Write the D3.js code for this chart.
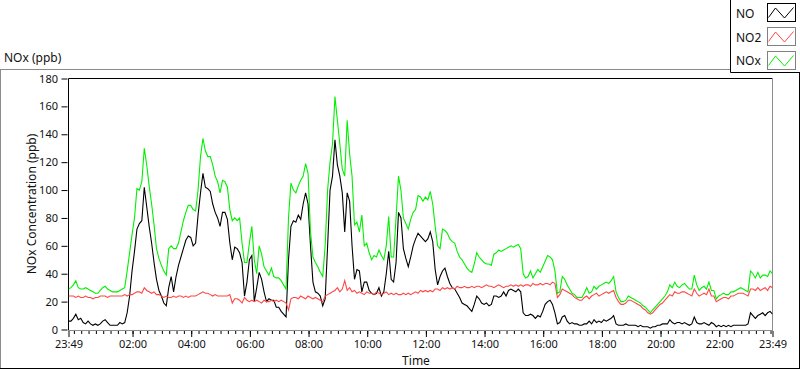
<!DOCTYPE html>
<html><head><meta charset="utf-8">
<script src="https://cdn.jsdelivr.net/npm/d3@7"></script>
<style>
body{margin:0;background:#fff;overflow:hidden}
svg{display:block}
text{font-family:"Noto Sans",sans-serif;fill:#111}
</style>
</head><body><svg id="c" width="800" height="369"></svg>
<script>
// ---------- data (5-minute samples from 23:49 to 23:49 next day) ----------
const startTime = "23:49";
const stepMinutes = 5;
const seriesNames = ["NO", "NO2", "NOx"];
const seriesColors = ["#000000", "#ff4646", "#00f000"];

const NO = [
6,6,8,11,7,8,5,4,6,4,3,4,3,4,6,7,5,3,3,3,3,5,4,5,
12,24,42,56,72,76,78,102,88,74,62,48,36,28,24,19,17,30,38,27,38,46,52,58,64,67,66,60,62,82,98,112,102,101,99,90,84,80,74,84,84,79,62,50,59,58,55,48,24,
34,50,53,20,30,41,36,27,20,22,21,21,16,16,13,11,9,
50,74,78,77,82,79,90,98,90,60,34,27,26,24,17,22,
60,100,110,136,118,110,98,70,98,92,60,
36,43,42,27,34,34,28,26,25,26,30,24,27,40,
56,36,34,48,84,80,58,51,45,52,60,65,69,67,
65,63,65,70,63,43,32,38,42,44,38,33,30,29,26,23,19,18,17,15,13,
18,24,22,19,18,19,17,18,24,24,23,24,27,24,28,29,28,27,29,27,
12,10,10,11,10,8,10,9,13,18,20,21,18,12,
4,5,9,10,6,4,5,4,4,3,3,4,4,6,4,7,5,
6,5,7,6,7,8,10,4,3,3,3,4,3,3,3,3,2,3,2,2,2,1,2,2,3,3,4,4,4,7,5,4,5,5,4,5,4,3,4,9,
5,4,4,5,4,3,5,4,2,3,2,3,2,3,2,3,3,3,3,3,3,4,12,10,8,10,11,12,10,12,13,11
];

const NO2 = [
24,24,24,23,24,23,23,24,23,23,22,23,23,24,24,24,23,24,24,24,24,24,24,25,
24,25,25,26,27,27,26,30,28,27,26,27,25,
25,24,23,24,23,23,24,23,24,24,23,24,23,24,24,24,
25,26,27,26,26,25,24,25,24,24,24,24,24,25,
19,22,22,21,19,23,
21,20,21,20,21,20,19,21,20,20,21,20,21,20,21,20,19,
14,
22,23,23,22,24,23,22,24,23,22,23,22,21,20,
24,25,26,27,28,30,27,29,35,28,30,27,
28,26,27,26,25,27,26,26,25,27,26,25,26,27,
25,26,25,26,25,25,26,25,26,25,26,27,26,28,
27,28,27,28,27,29,
29,28,30,29,30,29,30,29,31,30,30,31,30,30,31,
30,31,31,30,31,32,31,31,30,31,32,31,30,31,31,32,31,32,31,32,
31,32,32,31,33,32,32,33,32,33,33,32,34,33,
23,25,29,28,27,26,25,23,22,21,21,23,24,22,24,25,26,
24,25,26,27,26,27,28,23,20,18,18,19,21,21,20,19,18,17,15,14,12,11,12,14,16,18,19,21,23,25,
24,27,26,26,27,27,26,25,24,29,26,24,25,26,25,29,24,24,20,21,22,23,23,22,24,24,25,26,26,26,
25,24,29,29,28,30,28,29,30,28,31,30
];

const NOx = [
29,30,32,35,30,29,29,30,29,28,27,26,26,28,30,31,29,28,27,27,27,28,29,30,
42,55,68,80,101,100,106,130,118,103,90,75,58,51,46,42,39,58,60,58,
58,62,70,78,84,89,89,86,85,100,124,137,128,124,124,118,110,106,98,107,
106,102,86,78,80,78,80,62,48,
48,62,74,50,40,60,54,45,42,39,44,38,37,37,35,32,29,80,105,100,
98,103,107,110,119,112,70,52,48,45,41,38,60,100,120,133,167,150,133,115,
110,150,126,110,75,77,70,82,60,62,55,50,53,52,57,53,50,60,81,52,
52,80,110,100,80,76,72,79,84,86,96,95,
92,95,93,99,90,74,60,58,72,71,69,65,63,62,56,52,50,47,44,42,
41,47,55,52,50,48,47,47,46,54,55,57,56,57,58,59,60,59,60,61,
58,40,37,38,42,37,40,43,41,45,49,53,52,50,42,26,27,38,36,32,
29,26,25,23,23,23,26,30,26,27,31,29,
31,32,33,34,33,35,38,27,23,20,20,21,24,23,22,21,20,19,17,16,
14,12,14,16,18,20,22,24,27,32,30,34,31,30,32,33,31,29,29,39,
32,28,30,31,29,34,28,28,22,24,25,26,25,25,27,27,28,29,30,29,
28,27,42,40,37,41,37,39,39,38,42,40
];

const xTickLabels = ["23:49","02:00","04:00","06:00","08:00","10:00","12:00","14:00","16:00","18:00","20:00","22:00","23:49"];
const yTicks = [0,20,40,60,80,100,120,140,160,180];
const chartTitle = "NOx (ppb)";
const yTitle = "NOx Concentration (ppb)";
const xTitle = "Time";

// ---------- scales ----------
const svg = d3.select("#c");
const P = {l: 68.5, r: 772.5, t: 78.5, b: 330.5};
const [sh, sm] = startTime.split(":").map(Number);
const t0 = new Date(2000, 0, 1, sh, sm);
const t1 = d3.timeMinute.offset(t0, 24 * 60);
const x = d3.scaleTime().domain([t0, t1]).range([P.l, P.r]);
const y = d3.scaleLinear().domain([0, 180]).range([P.b - 1, P.t]);

const timeOf = i => d3.timeMinute.offset(t0, i * stepMinutes);

// ---------- outer panel ----------
svg.append("line").attr("x1", 0).attr("x2", 730).attr("y1", 69.5).attr("y2", 69.5).attr("stroke", "#8c8c8c");
svg.append("line").attr("x1", 0.5).attr("x2", 0.5).attr("y1", 69.5).attr("y2", 369).attr("stroke", "#8c8c8c");
svg.append("line").attr("x1", 0).attr("x2", 800).attr("y1", 368.5).attr("y2", 368.5).attr("stroke", "#000");
svg.append("line").attr("x1", 799.5).attr("x2", 799.5).attr("y1", 72).attr("y2", 369).attr("stroke", "#000");

svg.append("text").attr("x", 4).attr("y", 62).attr("font-size", 12).text(chartTitle);

// ---------- plot frame ----------
svg.append("line").attr("x1", P.l).attr("x2", P.r).attr("y1", P.t).attr("y2", P.t).attr("stroke", "#000");
svg.append("line").attr("x1", P.l).attr("x2", P.l).attr("y1", P.t).attr("y2", P.b).attr("stroke", "#000");
svg.append("line").attr("x1", P.r).attr("x2", P.r).attr("y1", P.t).attr("y2", P.b).attr("stroke", "#8c8c8c");
svg.append("line").attr("x1", P.l).attr("x2", P.r + 0.5).attr("y1", P.b).attr("y2", P.b).attr("stroke", "#8c8c8c");

// ---------- y axis ----------
const yAx = svg.append("g").attr("transform", `translate(${P.l - 1},0)`)
  .call(d3.axisLeft(y).tickValues(yTicks).tickSize(6).tickPadding(3.5));
yAx.select(".domain").remove();
yAx.selectAll("line").attr("stroke", "#000");
yAx.selectAll("text").attr("font-size", 11).attr("font-family", '"Noto Sans",sans-serif').attr("fill", "#111");

svg.append("text").attr("transform", "translate(36,204) rotate(-90)")
  .attr("text-anchor", "middle").attr("font-size", 12).text(yTitle);

// ---------- x axis ----------
const majors = xTickLabels.map((s, i) => {
  const [h, m] = s.split(":").map(Number);
  return i === 0 ? t0 : (i === xTickLabels.length - 1 ? t1 : new Date(2000, 0, 2, h, m));
});
const minors = d3.timeMinute.every(15).range(d3.timeMinute.offset(t0, 1), t1);

const xMin = svg.append("g").attr("transform", `translate(0,${P.b + 0.5})`)
  .call(d3.axisBottom(x).tickValues(minors).tickSize(3).tickFormat(""));
xMin.select(".domain").remove();
xMin.selectAll("line").attr("stroke", "#000");

const xMaj = svg.append("g").attr("transform", `translate(0,${P.b + 0.5})`)
  .call(d3.axisBottom(x).tickValues(majors).tickSize(6).tickPadding(3)
    .tickFormat((d, i) => xTickLabels[i]));
xMaj.select(".domain").remove();
xMaj.selectAll("line").attr("stroke", "#000");
xMaj.selectAll("text").attr("font-size", 11).attr("font-family", '"Noto Sans",sans-serif').attr("fill", "#111");

svg.append("text").attr("x", 416).attr("y", 365).attr("text-anchor", "middle").attr("font-size", 12).text(xTitle);

// ---------- series ----------
const seriesData = [NO, NO2, NOx];
const line = d3.line().x((d, i) => x(timeOf(i))).y(d => y(d));
svg.append("defs").append("clipPath").attr("id", "clip")
  .append("rect").attr("x", P.l).attr("y", P.t).attr("width", P.r - P.l).attr("height", P.b - P.t);
const gPlot = svg.append("g").attr("clip-path", "url(#clip)");
seriesData.forEach((arr, s) => {
  gPlot.append("path").datum(arr).attr("d", line)
    .attr("fill", "none").attr("stroke", seriesColors[s]).attr("stroke-width", 1.1);
});

// ---------- legend ----------
svg.append("line").attr("x1", 730.5).attr("x2", 730.5).attr("y1", 0).attr("y2", 72.5).attr("stroke", "#000");
svg.append("line").attr("x1", 730.5).attr("x2", 800).attr("y1", 72.5).attr("y2", 72.5).attr("stroke", "#000");
const zig = [[1, 14], [8, 4.5], [17, 14.5], [26, 4]];
seriesNames.forEach((name, i) => {
  const yy = 3.5 + i * 24;
  svg.append("text").attr("x", 736).attr("y", 18 + i * 23.5).attr("font-size", 12).text(name);
  svg.append("rect").attr("x", 767.5).attr("y", yy).attr("width", 28).attr("height", 18)
    .attr("fill", "#fff").attr("stroke", i === 0 ? "#000" : "#808080");
  svg.append("path").attr("d", d3.line()(zig.map(p => [767.5 + p[0], yy + p[1]])))
    .attr("fill", "none").attr("stroke", seriesColors[i]).attr("stroke-width", 1);
});
</script>
</body></html>
